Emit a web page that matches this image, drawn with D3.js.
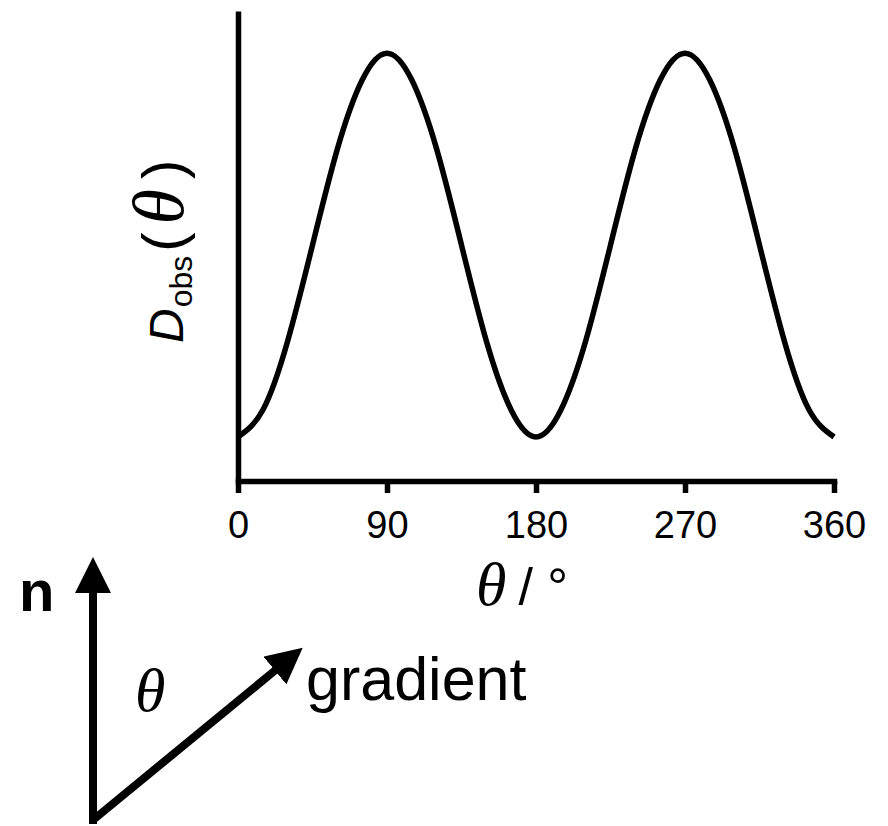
<!DOCTYPE html>
<html>
<head>
<meta charset="utf-8">
<script src="https://cdn.jsdelivr.net/npm/d3@7"></script>
<style>
  body { margin: 0; background: #fff; }
  text { font-family: "Liberation Sans", Arial, sans-serif; fill: #000; }
  .serif { font-family: "Liberation Serif", "DejaVu Serif", serif; font-style: italic; }
</style>
</head>
<body>
<div id="container"></div>
<script>
// CONSTANTS AND GLOBALS
const width = 888,
  height = 826;

// DATA (normalised 0 = trough, 1 = peak)
const angles = [0, 15, 30, 45, 60, 75, 90, 105, 120, 135, 150, 165, 180,
  195, 210, 225, 240, 255, 270, 285, 300, 315, 330, 345, 360];
const dObs = [0, 0.07, 0.25, 0.5, 0.75, 0.93, 1, 0.93, 0.75, 0.5, 0.25, 0.07, 0,
  0.07, 0.25, 0.5, 0.75, 0.93, 1, 0.93, 0.75, 0.5, 0.25, 0.07, 0];
const xTicks = [0, 90, 180, 270, 360];

const data = angles.map((a, i) => ({ theta: a, value: dObs[i] }));

// SCALES
const xScale = d3.scaleLinear()
  .domain([0, 360])
  .range([238, 834]);

const yScale = d3.scaleLinear()
  .domain([-0.115, 1.11])
  .range([481, 11]);

// SVG
const svg = d3.select("#container")
  .append("svg")
  .attr("width", width)
  .attr("height", height);

svg.append("rect").attr("width", width).attr("height", height).attr("fill", "#fff");

// AXES
const xAxis = d3.axisBottom(xScale)
  .tickValues(xTicks)
  .tickSize(12)
  .tickSizeOuter(0)
  .tickPadding(18);

const xAxisGroup = svg.append("g")
  .attr("transform", `translate(0, ${yScale(-0.115)})`)
  .call(xAxis);

xAxisGroup.select(".domain")
  .attr("stroke", "#000")
  .attr("stroke-width", 5.5)
  .attr("stroke-linecap", "square");
xAxisGroup.selectAll(".tick line")
  .attr("stroke", "#000")
  .attr("stroke-width", 5.5);
xAxisGroup.selectAll(".tick text")
  .attr("font-size", 38)
  .attr("font-family", "Liberation Sans, Arial, sans-serif");

const yAxis = d3.axisLeft(yScale)
  .tickValues([])
  .tickSizeOuter(0);

const yAxisGroup = svg.append("g")
  .attr("transform", `translate(${xScale(0)}, 0)`)
  .call(yAxis);

yAxisGroup.select(".domain")
  .attr("stroke", "#000")
  .attr("stroke-width", 5.5);

// CURVE
const line = d3.line()
  .x(d => xScale(d.theta))
  .y(d => yScale(d.value))
  .curve(d3.curveNatural);

svg.append("path")
  .datum(data)
  .attr("fill", "none")
  .attr("stroke", "#000")
  .attr("stroke-width", 5.5)
  .attr("d", line);

// AXIS TITLES
const xTitle = svg.append("text")
  .attr("x", 476)
  .attr("y", 605);
xTitle.append("tspan").attr("class", "serif").attr("font-size", 62).text("θ");
xTitle.append("tspan").attr("font-size", 52).attr("dx", 12).text("/ °");

const yTitle = svg.append("text")
  .attr("transform", "translate(183, 343) rotate(-90)")
  .attr("font-size", 48);
yTitle.append("tspan").attr("font-style", "italic").text("D");
yTitle.append("tspan").attr("font-size", 32).attr("dy", 9).attr("dx", 1).text("obs");
yTitle.append("tspan").attr("font-size", 58).attr("dy", -9).attr("dx", 4).text("(");
yTitle.append("tspan").attr("class", "serif").attr("font-size", 72).attr("dx", 8).text("θ");
yTitle.append("tspan").attr("font-size", 58).attr("dx", 10).text(")");

// DIAGRAM: normal and gradient arrows
svg.append("defs").append("marker")
  .attr("id", "head")
  .attr("viewBox", "0 0 36 36")
  .attr("refX", 4)
  .attr("refY", 18)
  .attr("markerWidth", 36)
  .attr("markerHeight", 36)
  .attr("markerUnits", "userSpaceOnUse")
  .attr("orient", "auto")
  .append("path")
  .attr("d", "M0,0L36,18L0,36Z")
  .attr("fill", "#000");

const corner = [93, 820];
svg.append("line")
  .attr("x1", corner[0]).attr("y1", corner[1] + 4)
  .attr("x2", corner[0]).attr("y2", 589)
  .attr("stroke", "#000").attr("stroke-width", 8)
  .attr("marker-end", "url(#head)");

svg.append("path")
  .attr("d", `M${corner[0]},${corner[1]}L278,668`)
  .attr("stroke", "#000").attr("stroke-width", 8).attr("fill", "none")
  .attr("stroke-linejoin", "miter")
  .attr("marker-end", "url(#head)");

svg.append("text")
  .attr("x", 19).attr("y", 611)
  .attr("font-size", 58).attr("font-weight", "bold")
  .text("n");

svg.append("text")
  .attr("class", "serif")
  .attr("x", 135).attr("y", 711)
  .attr("font-size", 62)
  .text("θ");

svg.append("text")
  .attr("x", 306).attr("y", 700)
  .attr("font-size", 61)
  .text("gradient");
</script>
</body>
</html>
